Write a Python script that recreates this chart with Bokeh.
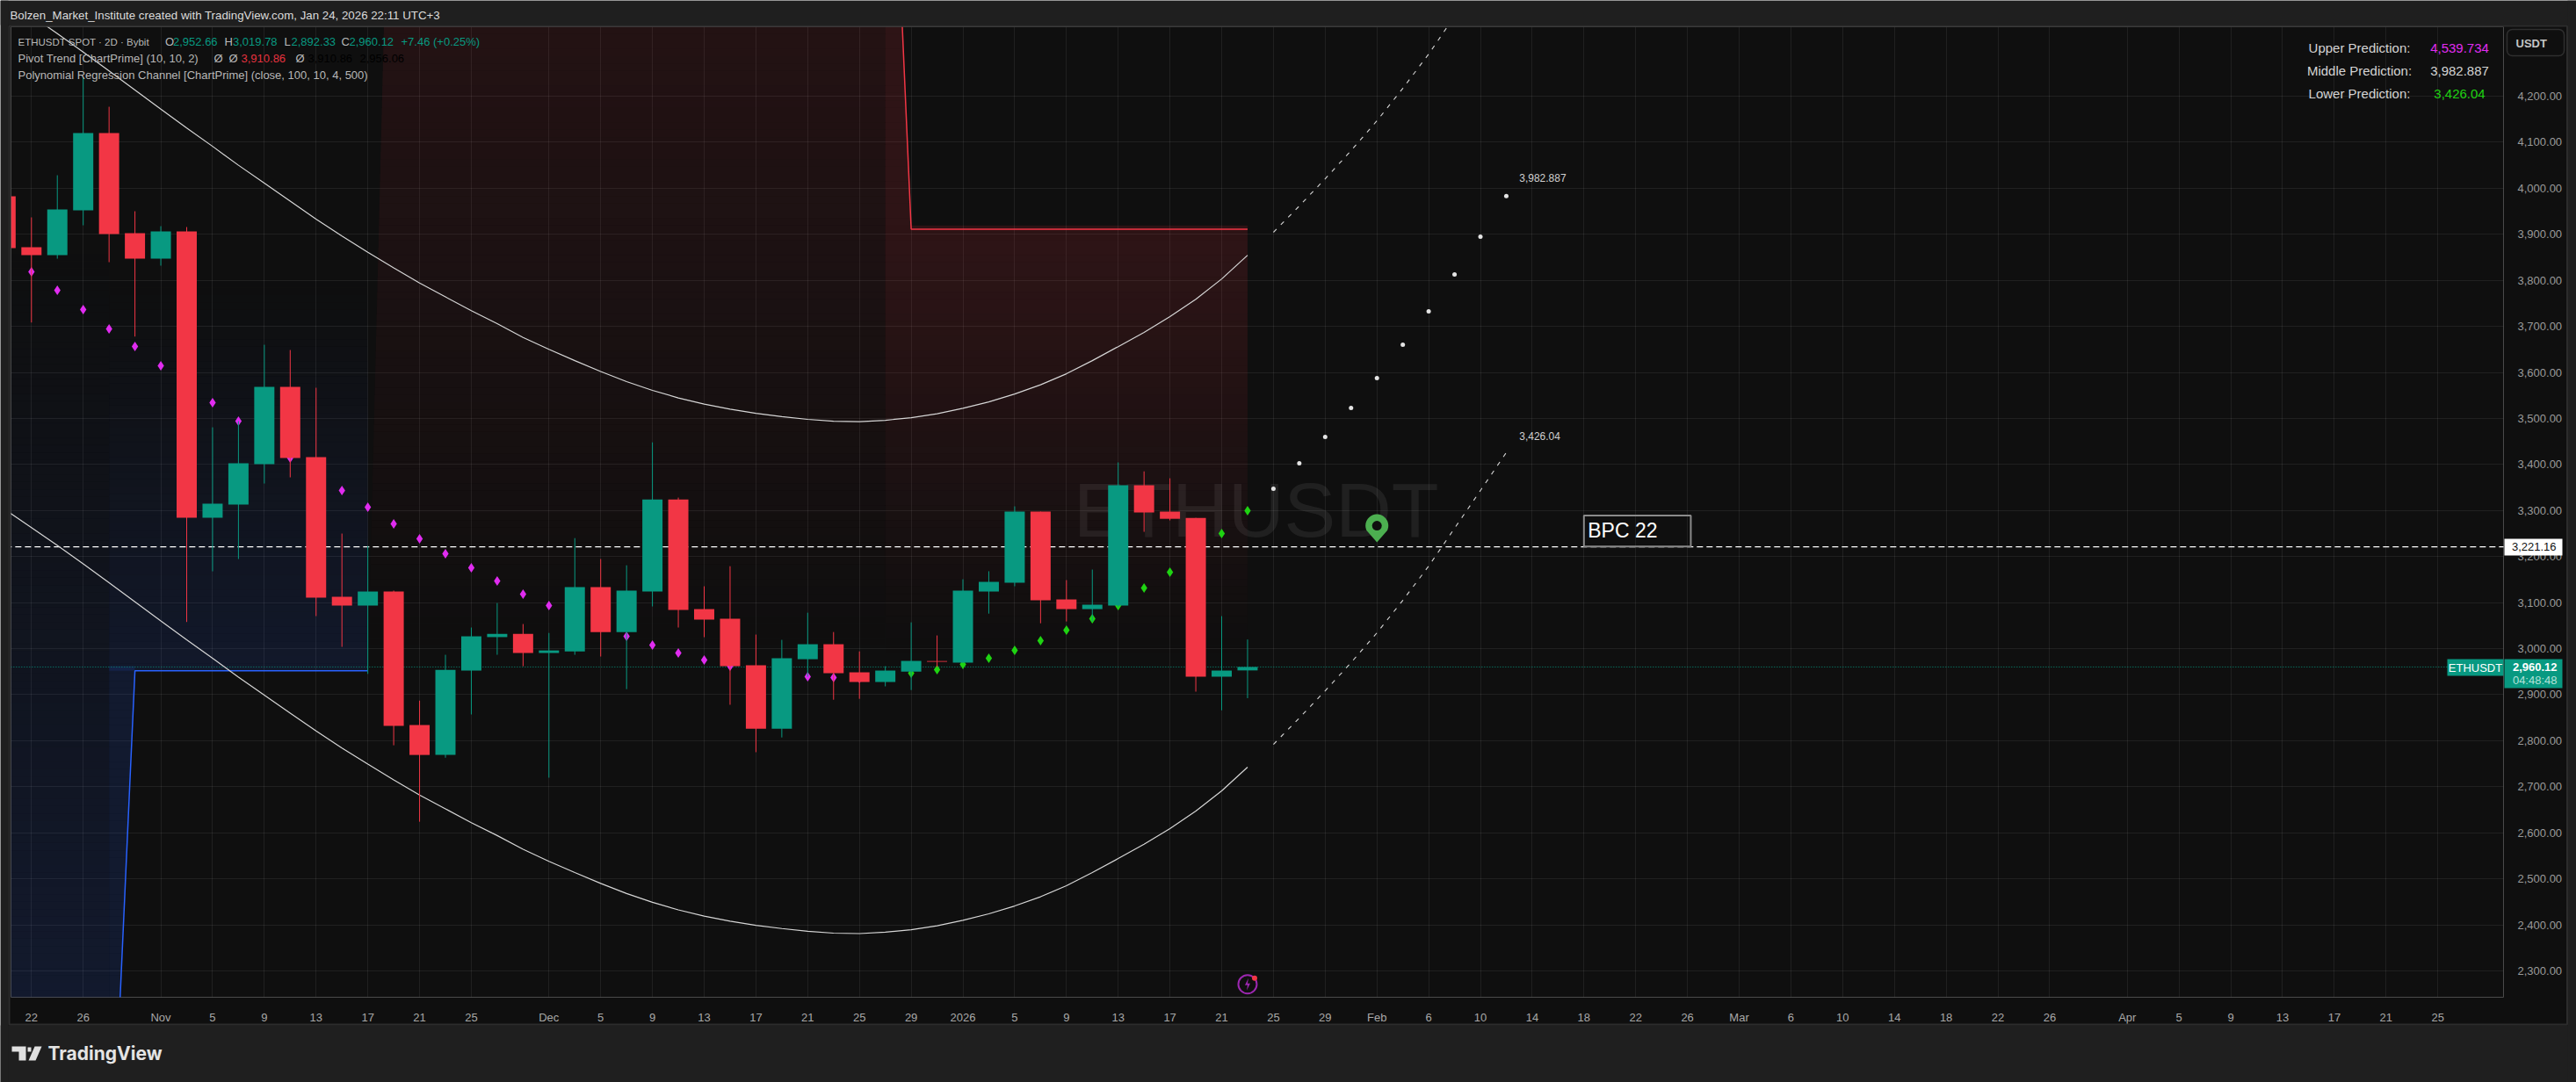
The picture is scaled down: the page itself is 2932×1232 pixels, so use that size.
from bokeh.core.properties import value
from bokeh.embed import file_html
from bokeh.layouts import column
from bokeh.models import BoxAnnotation, ColumnDataSource, FixedTicker, Label, NumeralTickFormatter, Range1d
from bokeh.plotting import figure
from bokeh.resources import INLINE
import numpy as np

# candles, first one is the bar cut off at the left edge (index -1)
opens = [3982.4, 3871.8, 3854.6, 3951.9, 4119.8, 3902.3, 3847, 3906, 3284.2, 3312.9, 3400.6, 3568.5, 3415.9, 3112.6,
         3093.5, 3124, 2834, 2769, 2952.3, 3025, 3032, 2990.5, 2994, 3133.5, 3036, 3124, 3324, 3085.8, 3064.9, 2963.8,
         2826, 2977, 3009.5, 2948.5, 2927.5, 2950, 2973, 2969.5, 3124, 3143, 3297.6, 3106.8, 3085.8, 3093.5, 3354.8,
         3297.6, 3284, 2939, 2952.66]
closes = [3869.9, 3854.6, 3953.9, 4119.8, 3900.4, 3847, 3906, 3284.2, 3314.8, 3402.5, 3568.5, 3414, 3110.6, 3093.5,
          3124, 2832, 2769, 2954, 3026.7, 3032, 2990.5, 2996, 3133.5, 3036, 3126, 3324, 3084, 3063, 2961.8, 2826,
          2979, 3009.5, 2946.6, 2927.5, 2952.3, 2973.3, 2971.4, 3126, 3145, 3297.6, 3105, 3085.8, 3095.4, 3354.8,
          3295.7, 3282, 2939, 2952.3, 2960.12]
highs = [3982.4, 3936.7, 4028.2, 4240, 4177, 3950, 3917.6, 3915.7, 3480.7, 3494, 3660, 3648.6, 3566.6, 3249.9,
         3223, 3126, 2887, 2986.6, 3045.8, 3099, 3053.4, 3034, 3240, 3194.6, 3181, 3448, 3328, 3135.4, 3179, 3030.5,
         3019, 3078, 3036, 2994, 2961.8, 3057, 3028.6, 3150.7, 3168, 3309, 3297.6, 3148.8, 3171.7, 3404.4,
         3385, 3370, 3284, 3070.6, 3019.78]
lows = [3869.9, 3708.4, 3847, 3919.5, 3839.4, 3677.8, 3831.8, 3057.8, 3167.9, 3194.6, 3358.6, 3372, 3070.6, 3003.8,
        2945, 2790, 2624, 2763, 2857, 2986.6, 2961.8, 2719.6, 2986.6, 2982.8, 2912, 3091.6, 3045.8, 3024.8, 2878, 2775,
        2807, 2939, 2889, 2891, 2918, 2910, 2960, 2969.5, 3076, 3135.4, 3055, 3059, 3059, 3089.7,
        3253.7, 3278.5, 2906.5, 2866, 2892.33]

# pivot trend dots
trail_up = [3818.4, 3778.3, 3736.4, 3694.4, 3656.2, 3614.3, 3574.2, 3534.2, 3494.1, 3454, 3414, 3377.7, 3343.4, 3307.1,
            3270.9, 3238.5, 3206, 3175.5, 3146.9, 3118.3, 3093.5, 3070.6, 3049.6, 3026.7, 3007.6, 2990.5, 2975.2,
            2961.8, 2948.5, 2942.8, 2939, 2937, 2935.1]
trail_dn = [2940.9, 2946.6, 2954.2, 2965.7, 2979, 2996.2, 3017.2, 3040, 3064.9, 3093.5, 3131.6, 3166, 3206, 3250, 3299.5]

# regression channel, one value per bar from index -1 to 47
channel_low = [3301, 3263, 3224, 3184, 3143, 3101.5, 3060, 3019, 2979, 2938, 2899, 2860, 2821, 2784, 2749, 2715, 2682,
               2652, 2622, 2594, 2564, 2538, 2513.5, 2490, 2468, 2449, 2432.5, 2419, 2408, 2399, 2392, 2386, 2382, 2381,
               2384, 2389.5, 2398, 2410, 2424, 2441, 2461, 2485, 2513.5, 2544, 2575, 2609, 2647, 2691, 2742.5]
channel_up = [4413, 4375, 4336, 4296, 4255, 4213.5, 4172, 4131, 4091, 4050, 4011, 3972, 3933, 3896, 3861, 3827, 3794,
              3764, 3734, 3706, 3676, 3650, 3625.5, 3602, 3580, 3561, 3544.5, 3531, 3520, 3511, 3504, 3498, 3494, 3493,
              3496, 3501.5, 3510, 3522, 3536, 3553, 3573, 3597, 3625.5, 3656, 3687, 3721, 3759, 3803, 3854.5]

# forecast, index 48 to 57
fc_up = [3904.3, 3961.5, 4020.6, 4081.6, 4146.5, 4217, 4291.5, 4373.5, 4455.6, 4539.734]
fc_mid = [3347.2, 3402.5, 3459.8, 3522.7, 3587.6, 3660.1, 3732.6, 3812.7, 3894.7, 3982.887]
fc_low = [2792, 2849.3, 2908.4, 2969.5, 3034.3, 3104.9, 3179.3, 3261.4, 3343.4, 3426.04]

# stop lines of the pivot trend
blue_x = [-1, 3, 4, 13]
blue_y = [1712, 1712, 2952, 2952]
red_x = [33, 34, 47]
red_y = [5192, 3910.86, 3910.86]

y_ticks = list(range(2300, 4300, 100))
x_ticks = [0, 2, 5, 7, 9, 11, 13, 15, 17, 20, 22, 24, 26, 28, 30, 32, 34, 36, 38, 40, 42, 44, 46, 48, 50, 52, 54, 56,
           58, 60, 62, 64, 66, 68, 70, 72, 74, 76, 78, 81, 83, 85, 87, 89, 91, 93]
x_labels = ["22", "26", "Nov", "5", "9", "13", "17", "21", "25", "Dec", "5", "9", "13", "17", "21", "25", "29", "2026",
            "5", "9", "13", "17", "21", "25", "29", "Feb", "6", "10", "14", "18", "22", "26", "Mar", "6", "10", "14",
            "18", "22", "26", "Apr", "5", "9", "13", "17", "21", "25"]

GREEN = "#089981"
RED = "#f23645"
BLUE = "#2962ff"
PANE = "#0f0f0f"
PAGE = "#1f1f1f"
FONT = "Liberation Sans"
W, H = 2932, 1232
BAR_PX = 29.45
PRICE_PX = 1.9077

p = figure(width=W, height=H, output_backend="svg", toolbar_location=None, y_axis_location="right",
           x_range=Range1d(-0.791, 95.54), y_range=Range1d(2242.7, 4350.7),
           background_fill_color=PANE, border_fill_color=PANE, outline_line_color=None, frame_align=False,
           min_border_left=12, min_border_right=83, min_border_top=30, min_border_bottom=97)

p.xgrid.ticker = FixedTicker(ticks=x_ticks)
p.ygrid.ticker = FixedTicker(ticks=y_ticks)
p.grid.grid_line_color = "white"
p.grid.grid_line_alpha = 0.075

p.xaxis.ticker = FixedTicker(ticks=x_ticks)
p.xaxis.major_label_overrides = dict(zip(x_ticks, x_labels))
p.yaxis.ticker = FixedTicker(ticks=y_ticks)
p.yaxis.formatter = NumeralTickFormatter(format="0,0.00")
for ax, col, standoff in ((p.xaxis, "#a8a8a8", 9), (p.yaxis, "#9a9a9a", 10)):
    ax.axis_line_color = None
    ax.major_tick_line_color = None
    ax.minor_tick_line_color = None
    ax.major_label_text_color = col
    ax.major_label_text_font = FONT
    ax.major_label_text_font_size = "13px"
    ax.major_label_standoff = standoff

# watermark
p.text([47.33], [3302], text=["ETHUSDT"], text_font=value(FONT), text_font_size="88px", text_color="white",
       text_alpha=0.075, text_align="center", text_baseline="middle")


# pivot trend zones, a gradient out of thin slices
def fade(levels, left, right, alpha, color):
    levels = np.asarray(levels, dtype=float)
    src = ColumnDataSource(dict(l=left(levels), r=right(levels), b=levels, t=levels + 16, a=alpha(levels)))
    p.quad(left="l", right="r", bottom="b", top="t", fill_alpha="a", fill_color=color, line_color=None, source=src)


red_levels = np.arange(2975, 4352, 16)
fade(red_levels, lambda v: 13 + (v - 2952) / (red_y[0] - 2952), lambda v: v * 0 + red_x[0],
     lambda v: 0.15 * (v - 2975) / (red_y[0] - 2975), RED)
fade(red_levels, lambda v: v * 0 + red_x[0], lambda v: np.where(v < red_y[1], red_x[2], 33 + (red_y[0] - v) / (red_y[0] - red_y[1])),
     lambda v: 0.14 * np.minimum(1, (v - 2975) / (red_y[1] - 2975)), RED)

fade(np.arange(2242, 3875, 16), lambda v: v * 0 - 1, lambda v: v * 0 + blue_x[1],
     lambda v: 0.125 * (3874 - v) / (3874 - 2242), BLUE)
fade(np.arange(2242, 2952, 16), lambda v: v * 0 + blue_x[1], lambda v: 3 + (v - blue_y[1]) / (blue_y[2] - blue_y[1]),
     lambda v: v * 0 + 0.135, BLUE)
fade(np.arange(2952, 3800, 16), lambda v: v * 0 + blue_x[1], lambda v: v * 0 + blue_x[3],
     lambda v: 0.115 * (3800 - v) / (3800 - 2952), BLUE)

p.line(blue_x, blue_y, line_color=BLUE, line_width=1.5)
p.line(red_x, red_y, line_color=RED, line_width=1.5)

# levels
p.line([-1, 96], [3221.16, 3221.16], line_color="white", line_width=1.4, line_dash="7 4")
p.line([-1, 96], [2960.12, 2960.12], line_color=GREEN, line_width=1, line_dash="1 2")

# channel
bars = list(range(-1, 48))
fc_bars = list(range(48, 58))
p.line(bars, channel_up, line_color="#d6d6d6", line_width=1.2)
p.line(bars, channel_low, line_color="#d6d6d6", line_width=1.2)
p.line(fc_bars, fc_up, line_color="#d6d6d6", line_width=1.1, line_dash="5 7")
p.line(fc_bars, fc_low, line_color="#d6d6d6", line_width=1.1, line_dash="5 7")
p.scatter(fc_bars, fc_mid, marker="circle", size=5, fill_color="#e4e4e4", line_color=None)

# dots under the candles
p.scatter(list(range(0, len(trail_up))), trail_up, marker="diamond", size=11, fill_color="#e02cf0", line_color=None)
p.scatter(list(range(33, 33 + len(trail_dn))), trail_dn, marker="diamond", size=11, fill_color="#1fd312", line_color=None)

colors = [GREEN if c >= o else RED for o, c in zip(opens, closes)]
candles = ColumnDataSource(dict(x=bars, o=opens, c=closes, h=highs, l=lows, color=colors))
p.segment("x", "h", "x", "l", line_color="color", line_width=1, source=candles)
p.vbar("x", 0.78, "o", "c", fill_color="color", line_color=None, source=candles)


# small drawn icons, offsets in pixels around an anchor on the chart
def px_patch(anchor_x, anchor_y, dx, dy, color):
    p.patch(anchor_x + np.asarray(dx) / BAR_PX, anchor_y - np.asarray(dy) * PRICE_PX, fill_color=color, line_color=None)


# map pin, anchored at its tip
pin_i, pin_price = 52, 3230.8
ang = np.radians(np.linspace(205, -25, 30))
px_patch(pin_i, pin_price, list(13 * np.cos(ang)) + [0], list(-19 - 13 * np.sin(ang)) + [0], "#4caf50")
p.scatter([pin_i], [pin_price + 19 * PRICE_PX], marker="circle", size=11, fill_color=PANE, line_color=None)

# bolt icon at the time axis
bolt_i, bolt_price = 47, 2271
p.scatter([bolt_i], [bolt_price], marker="circle", size=21, fill_alpha=0, line_color="#9c27b0", line_width=2)
px_patch(bolt_i, bolt_price, [1, -3, 0, -1, 3, 0], [-7, 1, 1, 7, -1, -1], "#9c27b0")
p.scatter([bolt_i + 8 / BAR_PX], [bolt_price + 7 * PRICE_PX], marker="circle", size=6, fill_color=RED, line_color=None)

# note box
p.add_layout(BoxAnnotation(left=60, right=64.13, bottom=3222, top=3289, fill_alpha=0, line_color="#8a8a8a", line_alpha=1,
                           line_width=2))
p.add_layout(Label(x=60.15, y=3256, text="BPC 22", text_color="white", text_font=FONT, text_font_size="23px",
                   text_baseline="middle"))

# end labels of the forecast
p.add_layout(Label(x=57.5, y=fc_mid[-1] + 40, text="3,982.887", text_color="#d0d0d0", text_font=FONT, text_font_size="12px",
                   text_baseline="middle"))
p.add_layout(Label(x=57.5, y=fc_low[-1] + 35, text="3,426.04", text_color="#d0d0d0", text_font=FONT, text_font_size="12px",
                   text_baseline="middle"))

# a transparent sheet of the same size lies over the chart and holds the page around it,
# its ranges are simply page pixels
sheet = figure(width=W, height=H, output_backend="svg", toolbar_location=None, x_axis_type=None, y_axis_type=None,
               x_range=Range1d(0, W), y_range=Range1d(H, 0), background_fill_color=None, border_fill_color=None,
               outline_line_color=None, min_border=0, margin=(-H, 0, 0, 0), frame_align=False)
sheet.grid.visible = False

# bands around the pane, then its thin border
band_l = [0, 0, 0, 2922]
band_r = [W, W, 9, W]
band_t = [0, 1167, 0, 0]
band_b = [28, H, H, H]
sheet.quad(left=band_l, right=band_r, top=band_t, bottom=band_b, fill_color=PAGE, line_color=None)
sheet.quad(left=[10], right=[2921.5], top=[29], bottom=[1166], fill_alpha=0, line_color="#2c2c2c", line_width=2)
sheet.quad(left=[2853], right=[2918], top=[33], bottom=[63], fill_alpha=0, line_color="#2f2f2f", line_width=1.5, border_radius=6)

# price tags on the axis
sheet.quad(left=[2850, 2785, 2850], right=[2916, 2849, 2916], top=[613, 750, 750], bottom=[632, 769, 783],
           fill_color=["white", GREEN, GREEN], line_color=None)


def txt(x, y, text, color="#d4d4d4", size=13, align="left", style="normal", font=FONT):
    sheet.add_layout(Label(x=x, y=y, text=text, text_color=color, text_font=font, text_font_size=f"{size}px",
                           text_align=align, text_baseline="middle", text_font_style=style))


txt(11, 17, "Bolzen_Market_Institute created with TradingView.com, Jan 24, 2026 22:11 UTC+3", "#dcdcdc", 13.3)
txt(20, 47, "ETHUSDT SPOT · 2D · Bybit", "#b8b8b8", 11.5)
for x, head, x2, val in ((187.5, "O", 196.5, "2,952.66"), (255, "H", 264.5, "3,019.78"), (323, "L", 331, "2,892.33"), (388, "C", 397, "2,960.12")):
    txt(x, 47, head, "#b8b8b8")
    txt(x2, 47, val, GREEN)
txt(456, 47, "+7.46 (+0.25%)", GREEN)
txt(20, 66, "Pivot Trend [ChartPrime] (10, 10, 2)", "#b8b8b8")
txt(243, 66, "Ø", "#b8b8b8")
txt(260, 66, "Ø", "#b8b8b8")
txt(274, 66, "3,910.86", "#e5323f")
txt(336, 66, "Ø", "#b8b8b8")
txt(350, 66, "3,910.86", "#000000")
txt(409, 66, "2,956.06", "#000000")
txt(20, 85, "Polynomial Regression Channel [ChartPrime] (close, 100, 10, 4, 500)", "#b8b8b8")

txt(2685, 54, "Upper Prediction:", "#d4d4d4", 15, "center")
txt(2799, 54, "4,539.734", "#e02cf0", 15, "center")
txt(2685, 80, "Middle Prediction:", "#d4d4d4", 15, "center")
txt(2799, 80, "3,982.887", "#d4d4d4", 15, "center")
txt(2685, 106, "Lower Prediction:", "#d4d4d4", 15, "center")
txt(2799, 106, "3,426.04", "#1fd312", 15, "center")

txt(2863, 49, "USDT", "#c4c4c4", 13, style="bold")

txt(2909, 622, "3,221.16", "#111111", 13, "right")
txt(2817, 759.5, "ETHUSDT", "white", 13, "center")
txt(2910, 759, "2,960.12", "white", 13, "right", "bold")
txt(2910, 774, "04:48:48", "#b5e2d9", 13, "right")

# TradingView logo
logo_x = [[13, 29, 29, 21, 21, 13], [39, 47, 40, 32], [31, 35, 35, 31]]
logo_y = [[1191, 1191, 1207, 1207, 1197, 1197], [1191, 1191, 1207, 1207], [1192, 1192, 1197, 1197]]
sheet.patches(logo_x, logo_y, fill_color="#e0e0e0", line_color=None)
txt(54, 1199, "TradingView", "#e4e4e4", 21, style="bold", font="Inter")

open("out.html", "w").write(file_html(column(p, sheet), INLINE))
